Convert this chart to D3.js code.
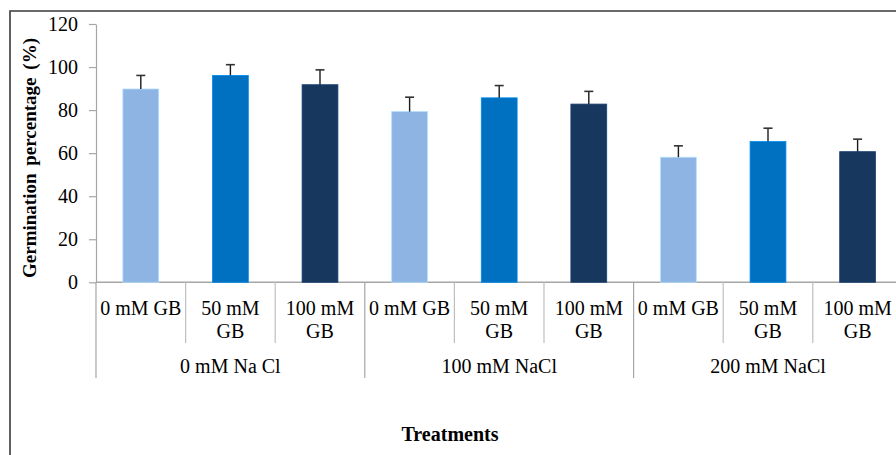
<!DOCTYPE html>
<html>
<head>
<meta charset="utf-8">
<script src="https://cdn.jsdelivr.net/npm/d3@7"></script>
<style>
  html, body { margin: 0; padding: 0; background: #fff; }
  svg { display: block; }
  text { font-family: "Liberation Serif", "Times New Roman", serif; fill: #000; }
</style>
</head>
<body>
<svg id="chart" width="896" height="455"></svg>
<script>
// Germination percentage by NaCl level and glycine betaine (GB) dose
const saltLevels = ["0 mM Na Cl", "100 mM NaCl", "200 mM NaCl"];
const gbLevels = ["0 mM GB", "50 mM GB", "100 mM GB"];
const germination = [
  [89.8, 96.1, 91.8],   // 0 mM NaCl
  [79.3, 85.7, 82.8],   // 100 mM NaCl
  [58.1, 65.4, 60.7]    // 200 mM NaCl
];
const errors = [
  [6.3, 5.0, 6.9],
  [6.7, 5.7, 5.9],
  [5.3, 6.2, 5.8]
];
const yTicks = [0, 20, 40, 60, 80, 100, 120];
const gbColors = ["#8EB4E3", "#0070C0", "#17375E"];

const svg = d3.select("#chart");

// plot geometry
const x0 = 96, step = 89.6, yBase = 282.3, yTop = 24;

// flat list of bars
const rows = [];
saltLevels.forEach((s, i) => gbLevels.forEach((g, j) => rows.push({
  key: s + "|" + g, salt: s, gb: g, gi: j, value: germination[i][j], err: errors[i][j]
})));

const x = d3.scaleBand()
  .domain(rows.map(d => d.key))
  .range([x0, x0 + step * rows.length])
  .paddingInner(0.6)
  .paddingOuter(0.3);

const y = d3.scaleLinear().domain([0, 120]).range([yBase, yTop]);

// outer frame (top and left only; chart runs past the right edge)
svg.append("path")
  .attr("d", "M10,455 V11 H896")
  .attr("fill", "none")
  .attr("stroke", "#3a3a3a")
  .attr("stroke-width", 1.6);

// y axis
const yAxis = svg.append("g")
  .attr("transform", `translate(${x0},0)`)
  .call(d3.axisLeft(y).tickValues(yTicks).tickSize(7).tickSizeOuter(0).tickPadding(11));
yAxis.select(".domain").attr("stroke", "#a6a6a6").attr("stroke-width", 1.2);
yAxis.selectAll(".tick line").attr("stroke", "#a6a6a6").attr("stroke-width", 1.2);
yAxis.selectAll(".tick text")
  .style("font-family", '"Liberation Serif", "Times New Roman", serif')
  .style("font-size", "20px")
  .attr("fill", "#000");

// x axis baseline
svg.append("line")
  .attr("x1", x0).attr("x2", 896)
  .attr("y1", yBase).attr("y2", yBase)
  .attr("stroke", "#a6a6a6").attr("stroke-width", 1.4);

// bars
svg.append("g").selectAll("rect")
  .data(rows).join("rect")
  .attr("x", d => x(d.key))
  .attr("width", x.bandwidth())
  .attr("y", d => y(d.value))
  .attr("height", d => y(0) - y(d.value))
  .attr("fill", d => gbColors[d.gi])
  .attr("stroke", d => d3.color(gbColors[d.gi]).brighter(0.6))
  .attr("stroke-width", 0.8);

// error bars (upper only)
const eb = svg.append("g").selectAll("g").data(rows).join("g");
eb.append("line")
  .attr("x1", d => x(d.key) + x.bandwidth() / 2)
  .attr("x2", d => x(d.key) + x.bandwidth() / 2)
  .attr("y1", d => y(d.value))
  .attr("y2", d => y(d.value + d.err))
  .attr("stroke", "#1a1a1a").attr("stroke-width", 1.4);
eb.append("line")
  .attr("x1", d => x(d.key) + x.bandwidth() / 2 - 4.5)
  .attr("x2", d => x(d.key) + x.bandwidth() / 2 + 4.5)
  .attr("y1", d => y(d.value + d.err))
  .attr("y2", d => y(d.value + d.err))
  .attr("stroke", "#333").attr("stroke-width", 1.6);

// category dividers and group dividers
const axisG = svg.append("g");
rows.forEach((d, i) => {
  const left = x(d.key) - x.step() * x.paddingInner() / 2;
  const isGroupStart = i % gbLevels.length === 0;
  axisG.append("line")
    .attr("x1", left).attr("x2", left)
    .attr("y1", yBase).attr("y2", isGroupStart ? 378 : 343)
    .attr("stroke", isGroupStart ? "#a6a6a6" : "#bfbfbf")
    .attr("stroke-width", 1.2);
});

// category labels, wrapped to the slot width
const catLabels = svg.append("g").selectAll("text")
  .data(rows).join("text")
  .attr("x", d => x(d.key) + x.bandwidth() / 2)
  .attr("y", 315)
  .attr("text-anchor", "middle")
  .style("font-size", "20px");

catLabels.each(function (d) {
  const t = d3.select(this);
  const cx = x(d.key) + x.bandwidth() / 2;
  const words = d.gb.split(" ");
  const maxW = x.step() - 4;
  let line = [];
  let lines = [];
  t.text(d.gb);
  if (this.getComputedTextLength() <= maxW) { lines = [d.gb]; }
  else {
    words.forEach(w => {
      const trial = line.concat(w).join(" ");
      t.text(trial);
      if (this.getComputedTextLength() > maxW && line.length) {
        lines.push(line.join(" "));
        line = [w];
      } else line.push(w);
    });
    if (line.length) lines.push(line.join(" "));
  }
  t.text(null);
  lines.forEach((l, k) => t.append("tspan").attr("x", cx).attr("dy", k ? 23 : 0).text(l));
});

// group labels
svg.append("g").selectAll("text")
  .data(saltLevels).join("text")
  .attr("x", (s, i) => x0 + step * gbLevels.length * (i + 0.5))
  .attr("y", 373)
  .attr("text-anchor", "middle")
  .style("font-size", "20px")
  .text(s => s);

// axis titles
svg.append("text")
  .attr("x", 450).attr("y", 441)
  .attr("text-anchor", "middle")
  .style("font-size", "20px").style("font-weight", "bold")
  .text("Treatments");

svg.append("text")
  .attr("transform", "translate(36,158) rotate(-90)")
  .attr("text-anchor", "middle")
  .style("font-size", "19px").style("font-weight", "bold")
  .style("word-spacing", "3px")
  .text("Germination percentage (%)");
</script>
</body>
</html>
